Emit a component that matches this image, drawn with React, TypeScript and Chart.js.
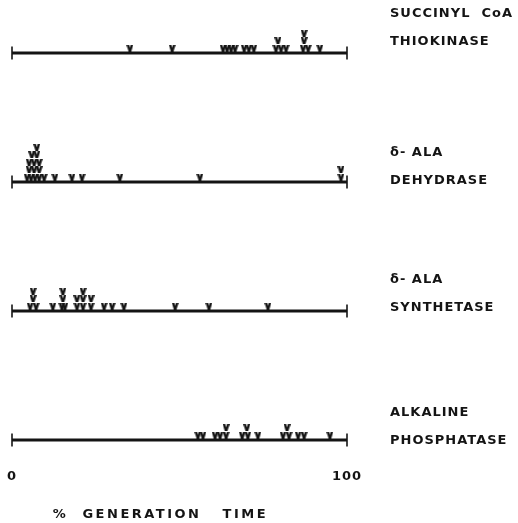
import React, { useEffect, useRef } from 'react';
import { Chart, registerables } from 'chart.js';

Chart.register(...registerables);

// ---- data ----
const enzymeLabels: string[][] = [
  ['SUCCINYL  CoA', 'THIOKINASE'],
  ['δ- ALA', 'DEHYDRASE'],
  ['δ- ALA', 'SYNTHETASE'],
  ['ALKALINE', 'PHOSPHATASE'],
];
const xTickValues = [0, 100];
const axisTitle = '%  GENERATION   TIME';

// % generation time of each "v" mark and its stack level above the line
const succinylPct = [35.2, 47.8, 63.0, 64.2, 65.4, 66.6, 69.3, 70.7, 72.2, 78.8, 80.3, 81.8, 86.9, 88.4, 91.9, 79.4, 87.2, 87.2];
const succinylLevel = [0, 0, 0, 0, 0, 0, 0, 0, 0, 0, 0, 0, 0, 0, 0, 1, 1, 2];

const dehydrasePct = [4.5, 5.7, 6.9, 8.1, 9.6, 12.8, 17.9, 20.9, 32.2, 56.1, 98.2, 5.1, 6.6, 8.1, 98.2, 5.1, 6.6, 8.1, 5.9, 7.4, 7.4];
const dehydraseLevel = [0, 0, 0, 0, 0, 0, 0, 0, 0, 0, 0, 1, 1, 1, 1, 2, 2, 2, 3, 3, 4];

const synthetasePct = [5.4, 7.2, 12.2, 14.9, 15.8, 19.4, 21.2, 23.6, 27.5, 29.9, 33.4, 48.7, 58.8, 76.4, 6.3, 15.2, 19.4, 21.2, 23.6, 6.3, 15.2, 21.2];
const synthetaseLevel = [0, 0, 0, 0, 0, 0, 0, 0, 0, 0, 0, 0, 0, 0, 1, 1, 1, 1, 1, 2, 2, 2];

const alkalinePct = [55.5, 57.0, 60.6, 62.1, 63.9, 68.7, 70.4, 73.4, 80.9, 82.7, 85.4, 87.2, 94.9, 63.9, 70.1, 82.1];
const alkalineLevel = [0, 0, 0, 0, 0, 0, 0, 0, 0, 0, 0, 0, 0, 1, 1, 1];

const markPct = [succinylPct, dehydrasePct, synthetasePct, alkalinePct];
const markLevel = [succinylLevel, dehydraseLevel, synthetaseLevel, alkalineLevel];

// ---- style constants ----
const INK = '#141414';
const ROW_PX = 129; // pixels per row unit on the y scale
const LEVEL_PX = 7.4;
const BASE_PX = 5;
const LABEL_SHIFT_PX = [25, 15, 17, 13];
const FONT = '"DejaVu Sans", sans-serif';

function makeMark(): HTMLCanvasElement {
  const c = document.createElement('canvas');
  c.width = 7;
  c.height = 7;
  const g = c.getContext('2d')!;
  g.fillStyle = INK;
  g.beginPath();
  g.moveTo(0, 0);
  g.lineTo(2.6, 0);
  g.lineTo(3.5, 3.2);
  g.lineTo(4.4, 0);
  g.lineTo(7, 0);
  g.lineTo(4.8, 7);
  g.lineTo(2.2, 7);
  g.closePath();
  g.fill();
  return c;
}

const textPlugin = {
  id: 'figText',
  beforeDraw(chart: any) {
    chart.ctx.letterSpacing = '1px';
  },
  afterDraw(chart: any) {
    const ctx = chart.ctx;
    const xs = chart.scales.x;
    ctx.save();
    ctx.letterSpacing = '2.5px';
    ctx.font = 'bold 13px ' + FONT;
    ctx.fillStyle = INK;
    ctx.textBaseline = 'middle';
    ctx.textAlign = 'left';
    ctx.fillText(axisTitle, xs.getPixelForValue(12.2), xs.bottom - 8);
    ctx.restore();
  },
};

export default function App() {
  const ref = useRef<HTMLCanvasElement>(null);

  useEffect(() => {
    const mark = makeMark();
    const datasets: any[] = [];
    enzymeLabels.forEach((_, row) => {
      datasets.push({
        type: 'line',
        data: xTickValues.map((v) => ({ x: v, y: row })),
        borderColor: INK,
        borderWidth: 3,
        pointStyle: 'line',
        rotation: 90,
        pointRadius: 6.5,
        pointBorderWidth: 1.6,
        pointBorderColor: INK,
        clip: false,
      });
      datasets.push({
        type: 'scatter',
        data: markPct[row].map((p, i) => ({
          x: p,
          y: row - (BASE_PX + LEVEL_PX * markLevel[row][i]) / ROW_PX,
        })),
        pointStyle: mark,
        pointRadius: 3.5,
        clip: false,
      });
    });

    const chart = new Chart(ref.current!, {
      type: 'scatter',
      data: { datasets },
      options: {
        animation: false,
        responsive: false,
        events: [],
        layout: { autoPadding: false, padding: { left: 12, top: 0, right: 0, bottom: 0 } },
        plugins: { legend: { display: false }, tooltip: { enabled: false } },
        scales: {
          x: {
            type: 'linear',
            min: 0,
            max: 100,
            grid: { display: false, drawTicks: false },
            border: { display: false },
            afterBuildTicks: (s: any) => {
              s.ticks = xTickValues.map((v) => ({ value: v }));
            },
            afterFit: (s: any) => {
              s.height = 63;
              s.paddingLeft = 0;
              s.paddingRight = 0;
            },
            ticks: {
              color: INK,
              padding: 9,
              maxRotation: 0,
              font: { family: FONT, size: 13, weight: 'bold' },
              callback: (v: any) => String(v),
            },
          },
          y: {
            type: 'linear',
            position: 'right',
            reverse: true,
            min: -53 / ROW_PX,
            max: (460 - 53) / ROW_PX,
            grid: { display: false, drawTicks: false },
            border: { display: false },
            afterBuildTicks: (s: any) => {
              s.ticks = enzymeLabels.map((_, i) => ({ value: i - LABEL_SHIFT_PX[i] / ROW_PX }));
            },
            afterFit: (s: any) => {
              s.width = 171;
              s.paddingTop = 0;
              s.paddingBottom = 0;
            },
            ticks: {
              color: INK,
              padding: 43,
              font: { family: FONT, size: 13, weight: 'bold', lineHeight: 28 / 13 },
              callback: (_v: any, i: number) => enzymeLabels[i],
            },
          },
        },
      },
      plugins: [textPlugin],
    } as any);
    return () => chart.destroy();
  }, []);

  return (
    <div style={{ position: 'absolute', left: 0, top: 0, width: 518, height: 523, background: '#fff' }}>
      <canvas ref={ref} width={518} height={523} />
    </div>
  );
}
